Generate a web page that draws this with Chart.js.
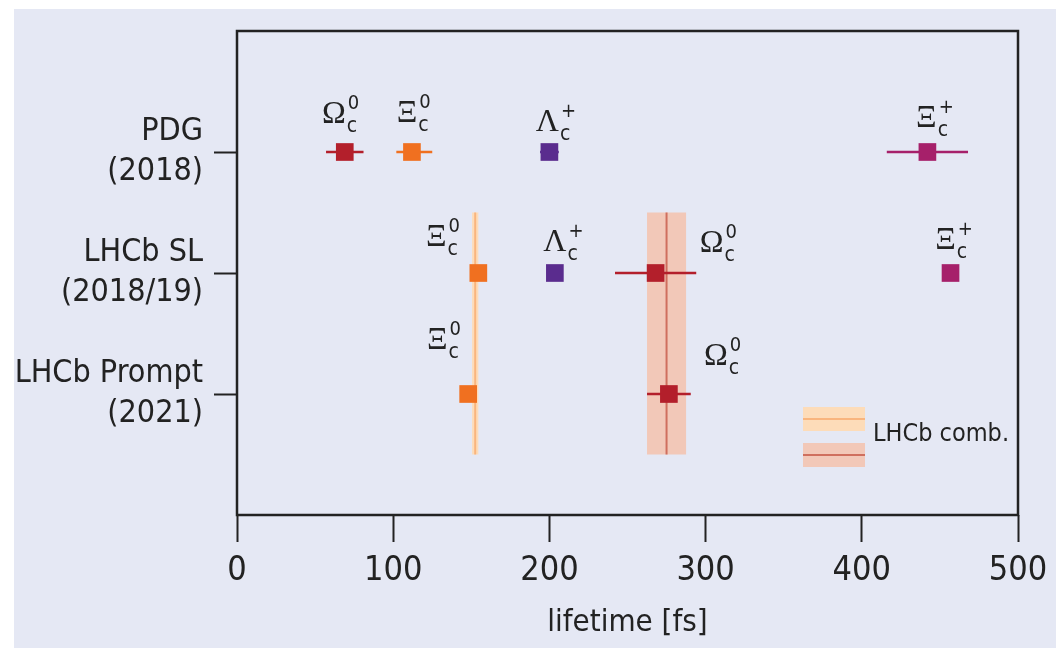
<!DOCTYPE html>
<html>
<head>
<meta charset="utf-8">
<script src="https://cdn.jsdelivr.net/npm/chart.js@4.4.0/dist/chart.umd.min.js"></script>
<style>
  html, body { margin: 0; padding: 0; background: #fff; }
  #wrap { position: relative; width: 1056px; height: 655px; }
</style>
</head>
<body>
<div id="wrap"><canvas id="chart" width="1056" height="655"></canvas></div>
<script>
// rows of the plot, top to bottom
const rowLabels = [['PDG', '(2018)'], ['LHCb SL', '(2018/19)'], ['LHCb Prompt', '(2021)']];

// particles: greek letter + superscript charge (subscript is always c)
const particles = ['Ω', 'Ξ', 'Λ', 'Ξ'];
const charges = ['0', '0', '+', '+'];

// lifetimes [fs] per row, null = not measured
const omegaC0 = [69, 268, 276.5];
const omegaC0Err = [12, 26, 14];
const xiC0 = [112, 154.5, 148];
const xiC0ErrLo = [10, 2.5, 3];
const xiC0ErrHi = [13, 2.5, 3];
const lambdaC = [200, 203.5, null];
const lambdaCErr = [6, 2, null];
const xiCPlus = [442, 456.8, null];
const xiCPlusErr = [26, 3, null];

// LHCb combined values (vertical bands), Xi_c0 and Omega_c0
const combValues = [152.5, 275];
const combErr = [2, 12.5];
const combRowSpan = [0.5, 2.5];

const xTicks = [0, 100, 200, 300, 400, 500];

// --- styles ---
const NARROW = "'Liberation Sans Narrow', 'DejaVu Sans Condensed', 'Liberation Sans', sans-serif";
const SERIF = "'Liberation Serif', 'DejaVu Serif', serif";
const INK = '#222222';
const colors = ['#b31f2b', '#f07020', '#5a2c8e', '#a6206a'];
const bandFill = ['#fddcb9', '#f2c8b8'];
const bandLine = ['#f9b57e', '#cf6f5e'];
// offset of the greek letter centre from its point, per particle / row
const labelOffsets = [
  [[-11, -40], [56, -32], [47, -40]],
  [[-5, -41], [-42, -38], [-31, -56]],
  [[-2, -32], [0, -33]],
  [[-1, -36], [-5, -35]]
];

function makePoints(vals, lo, hi) {
  const pts = [];
  vals.forEach((v, i) => {
    if (v === null) return;
    pts.push({ x: v, y: i, lo: v - lo[i], hi: v + hi[i] });
  });
  return pts;
}

const seriesPoints = [
  makePoints(omegaC0, omegaC0Err, omegaC0Err),
  makePoints(xiC0, xiC0ErrLo, xiC0ErrHi),
  makePoints(lambdaC, lambdaCErr, lambdaCErr),
  makePoints(xiCPlus, xiCPlusErr, xiCPlusErr)
];

const backgroundPlugin = {
  id: 'panel',
  beforeDraw(chart) {
    const ctx = chart.ctx;
    ctx.save();
    ctx.fillStyle = '#ffffff';
    ctx.fillRect(0, 0, chart.width, chart.height);
    ctx.fillStyle = '#e5e8f4';
    ctx.fillRect(14, 9, chart.width - 14, chart.height - 16);
    ctx.restore();
  }
};

const bandsPlugin = {
  id: 'bands',
  beforeDatasetsDraw(chart) {
    const { ctx, scales: { x, y } } = chart;
    const y1 = y.getPixelForValue(combRowSpan[0]);
    const y2 = y.getPixelForValue(combRowSpan[1]);
    ctx.save();
    combValues.forEach((v, i) => {
      const x1 = x.getPixelForValue(v - combErr[i]);
      const x2 = x.getPixelForValue(v + combErr[i]);
      ctx.fillStyle = bandFill[i];
      ctx.fillRect(x1, y1, x2 - x1, y2 - y1);
      const xc = x.getPixelForValue(v);
      ctx.strokeStyle = bandLine[i];
      ctx.lineWidth = 2;
      ctx.beginPath();
      ctx.moveTo(xc, y1);
      ctx.lineTo(xc, y2);
      ctx.stroke();
    });
    // error bars under the markers
    chart.data.datasets.forEach((ds, di) => {
      const meta = chart.getDatasetMeta(di);
      ctx.strokeStyle = ds.backgroundColor;
      ctx.lineWidth = 2.5;
      meta.data.forEach((el, pi) => {
        const p = ds.data[pi];
        ctx.beginPath();
        ctx.moveTo(x.getPixelForValue(p.lo), el.y);
        ctx.lineTo(x.getPixelForValue(p.hi), el.y);
        ctx.stroke();
      });
    });
    ctx.restore();
  }
};

const labelsPlugin = {
  id: 'particleLabels',
  afterDatasetsDraw(chart) {
    const ctx = chart.ctx;
    ctx.save();
    ctx.fillStyle = INK;
    ctx.textBaseline = 'alphabetic';
    chart.data.datasets.forEach((ds, di) => {
      const meta = chart.getDatasetMeta(di);
      meta.data.forEach((el, pi) => {
        const off = labelOffsets[di][pi];
        const cx = el.x + off[0];
        const base = el.y + off[1] + 11;
        ctx.font = '32px ' + SERIF;
        ctx.textAlign = 'center';
        ctx.fillText(particles[di], cx, base);
        const w = ctx.measureText(particles[di]).width;
        ctx.textAlign = 'left';
        ctx.font = '21px ' + NARROW;
        ctx.fillText('c', cx + w / 2 + 1, base + 9);
        ctx.font = '20px ' + NARROW;
        ctx.fillText(charges[di], cx + w / 2 + 2, base - 14);
      });
    });
    ctx.restore();
  }
};

const framePlugin = {
  id: 'frame',
  afterDraw(chart) {
    const { ctx, chartArea: a } = chart;
    ctx.save();
    ctx.strokeStyle = INK;
    ctx.lineWidth = 2.5;
    ctx.strokeRect(a.left, a.top, a.right - a.left, a.bottom - a.top);

    // legend for the combined bands
    const lx = a.right - 215, lw = 62;
    const tops = [a.bottom - 108, a.bottom - 72];
    tops.forEach((t, i) => {
      ctx.fillStyle = bandFill[i];
      ctx.fillRect(lx, t, lw, 24);
      ctx.strokeStyle = bandLine[i];
      ctx.lineWidth = 2;
      ctx.beginPath();
      ctx.moveTo(lx, t + 12);
      ctx.lineTo(lx + lw, t + 12);
      ctx.stroke();
    });
    ctx.fillStyle = INK;
    ctx.font = '25px ' + NARROW;
    ctx.textAlign = 'left';
    ctx.textBaseline = 'middle';
    ctx.fillText('LHCb comb.', lx + lw + 8, a.bottom - 81);
    ctx.restore();
  }
};

new Chart(document.getElementById('chart'), {
  type: 'scatter',
  data: {
    datasets: seriesPoints.map((pts, i) => ({
      label: particles[i] + 'c' + charges[i],
      data: pts,
      backgroundColor: colors[i],
      borderWidth: 0,
      pointStyle: 'rect',
      pointRadius: 12.5,
      pointHoverRadius: 12.5
    }))
  },
  options: {
    responsive: false,
    animation: false,
    devicePixelRatio: 1,
    events: [],
    layout: { padding: { top: 31, right: 38, left: 0, bottom: 0 } },
    plugins: { legend: { display: false }, tooltip: { enabled: false } },
    scales: {
      x: {
        type: 'linear',
        min: 0,
        max: 500,
        afterBuildTicks: (s) => { s.ticks = xTicks.map(v => ({ value: v })); },
        afterFit: (s) => { s.height = 140; s.paddingLeft = 0; s.paddingRight = 0; },
        ticks: { color: INK, padding: 9, font: { family: NARROW, size: 34, lineHeight: 1.2 } },
        grid: { drawOnChartArea: false, tickLength: 27, tickColor: INK, tickWidth: 2 },
        border: { display: false },
        title: {
          display: true,
          text: 'lifetime [fs]',
          color: INK,
          font: { family: NARROW, size: 31, lineHeight: 1.2 },
          padding: { top: 0, bottom: 13 }
        }
      },
      y: {
        type: 'linear',
        min: -1,
        max: 3,
        reverse: true,
        afterBuildTicks: (s) => { s.ticks = rowLabels.map((r, i) => ({ value: i })); },
        afterFit: (s) => { s.width = 237; s.paddingTop = 0; s.paddingBottom = 0; },
        ticks: {
          color: INK,
          padding: 11,
          autoSkip: false,
          font: { family: NARROW, size: 32, lineHeight: 1.25 },
          callback: (v) => rowLabels[v]
        },
        grid: { drawOnChartArea: false, tickLength: 23, tickColor: INK, tickWidth: 2 },
        border: { display: false }
      }
    }
  },
  plugins: [backgroundPlugin, bandsPlugin, labelsPlugin, framePlugin]
});
</script>
</body>
</html>
